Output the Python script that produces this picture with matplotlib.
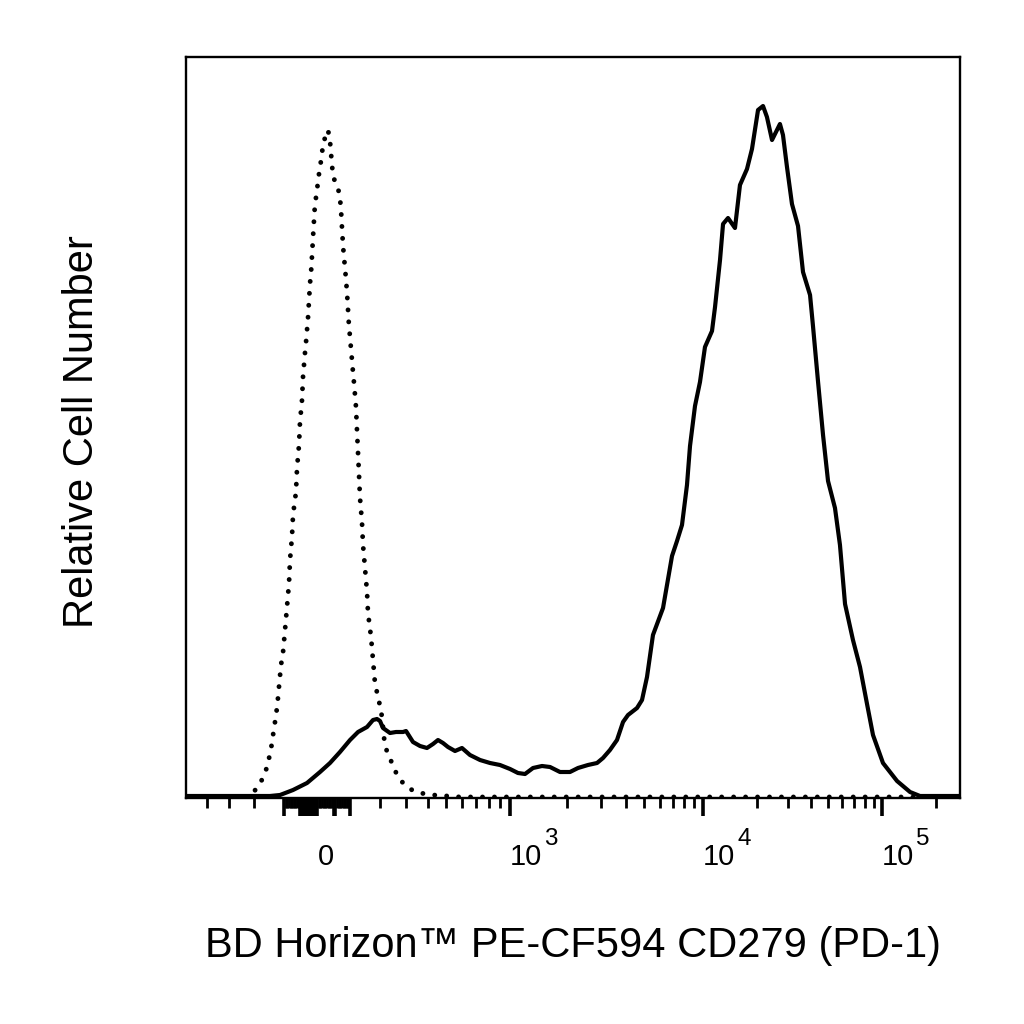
import numpy as np
import matplotlib
matplotlib.use("Agg")
import matplotlib.pyplot as plt
import matplotlib.transforms as mtransforms

plt.rcParams['font.family'] = ['Liberation Sans', 'DejaVu Sans']

# ---- data (x in display channels 0-1024, y in relative cell counts) ----
solid_ch = [0, 111.1, 124.4, 141.6, 160.1, 177.3, 190.5, 203.7, 217.0, 227.6, 239.5,
            247.4, 252.7, 256.7, 260.6, 269.9, 277.8, 287.1, 291.1, 300.3, 309.6,
            318.8, 326.8, 333.4, 340.0, 346.6, 355.9, 365.1, 375.7, 389.0, 402.2,
            415.4, 428.7, 439.2, 448.5, 459.1, 471.0, 481.6, 494.8, 508.0, 518.6,
            531.8, 543.8, 551.7, 560.9, 570.2, 578.2, 584.8, 596.7, 603.3, 609.9,
            617.8, 631.1, 643.0, 649.6, 656.2, 662.8, 666.8, 673.4, 680.0, 686.6,
            695.9, 699.9, 706.5, 710.5, 717.1, 726.3, 732.9, 742.2, 748.8, 756.8,
            763.4, 768.6, 775.3, 785.8, 789.8, 795.1, 801.7, 809.7, 816.3, 825.6,
            829.5, 836.1, 842.8, 849.4, 858.6, 865.2, 871.9, 882.4, 891.7, 901.0,
            908.9, 922.1, 940.7, 957.9, 971.1, 1024]
solid_count = [2, 2, 3, 8, 15, 26, 35, 46, 58, 66, 71,
               78, 79, 77, 70, 65, 66, 66, 67, 56, 52,
               50, 54, 58, 55, 51, 47, 50, 43, 38, 35,
               33, 29, 25, 24, 30, 32, 31, 26, 26, 30,
               33, 35, 40, 48, 58, 76, 83, 90, 98, 121,
               163, 190, 242, 257, 273, 313, 352, 392, 416, 451,
               467, 491, 538, 574, 580, 570, 613, 629, 649, 688,
               692, 681, 658, 674, 663, 631, 594, 572, 526, 503,
               472, 417, 363, 317, 290, 253, 194, 158, 131, 94,
               63, 35, 17, 6, 2, 2]

dotted_ch = [0, 71.4, 84.7, 93.9, 101.9, 107.2, 111.1, 113.8, 116.4, 119.1, 121.7,
             123.0, 125.7, 128.3, 131.0, 133.6, 136.3, 137.6, 140.2, 141.6, 145.5,
             146.9, 149.5, 150.8, 153.5, 154.8, 156.1, 157.4, 158.8, 160.1, 161.4,
             162.7, 164.1, 165.4, 166.7, 168.0, 169.3, 170.7, 173.3, 174.6, 177.3,
             181.3, 185.2, 187.9, 190.5, 191.8, 193.2, 194.5, 198.5, 201.1, 203.7,
             205.1, 206.4, 207.7, 209.0, 210.4, 211.7, 213.0, 214.3, 215.6, 217.0,
             218.3, 219.6, 220.9, 222.3, 223.6, 224.9, 226.2, 227.6, 228.9, 230.2,
             232.8, 234.2, 236.8, 239.5, 240.8, 244.8, 247.4, 250.0, 254.0, 256.7,
             259.3, 262.0, 265.9, 272.5, 279.2, 287.1, 299.0, 309.6, 326.8, 345.3,
             362.5, 1024]
dotted_count = [1, 1, 2, 10, 20, 31, 44, 55, 70, 82, 100,
                111, 133, 145, 168, 191, 215, 238, 261, 283, 306,
                330, 353, 376, 398, 421, 433, 445, 456, 468, 480,
                497, 515, 525, 542, 560, 577, 595, 606, 618, 630,
                653, 664, 668, 657, 645, 633, 621, 615, 610, 600,
                588, 570, 553, 541, 530, 518, 506, 489, 472, 461,
                449, 438, 426, 415, 403, 391, 368, 345, 323, 300,
                276, 253, 230, 206, 185, 161, 138, 115, 101, 92,
                81, 60, 46, 35, 23, 15, 8, 5, 3, 2,
                1, 1]

major_vals = [0, 1e3, 1e4, 1e5]
major_labels = ['0', '3', '4', '5']          # '0' plain, others are exponents of 10
long_minor_vals = [-100, -50, -45, -40, -35, -30, -25, -20, -15, -10, -5, 50, 55, 100]
minor_vals = ([-400, -300, -200]
              + [v for v in range(-95, 100, 5) if v not in long_minor_vals + [0]]
              + list(range(200, 1000, 100)) + list(range(2000, 10000, 1000))
              + list(range(20000, 100000, 10000)) + [200000])

x_label = 'BD Horizon\u2122 PE-CF594 CD279 (PD-1)'
y_label = 'Relative Cell Number'

# ---- biexponential-like channel mapping used for tick positions ----
W = 300.0
g_anchor = np.array([-10.0, 0.0, np.arcsinh(1e3 / W), np.arcsinh(1e4 / W), np.arcsinh(1e5 / W), 10.0])
c_anchor = np.array([173.3 - 132.7 * 10, 173.3, 428.7, 684.0, 920.8,
                     920.8 + 102.9 * (10 - np.arcsinh(1e5 / W))])


def to_channel(v):
    return np.interp(np.arcsinh(np.asarray(v, dtype=float) / W), g_anchor, c_anchor)


fig = plt.figure(figsize=(10.24, 10.24), dpi=100)
ax = fig.add_axes([186 / 1024, 1 - 798 / 1024, 774 / 1024, 741 / 1024])

ax.plot(dotted_ch, dotted_count, color='black', lw=3.5,
        linestyle=(0, (0.01, 2.45)), dash_capstyle='round', solid_capstyle='round')
ax.plot(solid_ch, solid_count, color='black', lw=3.0, solid_joinstyle='round')

ax.set_xlim(0, 1024)
ax.set_ylim(0, 741)
ax.set_yticks([])

ax.set_xticks(list(to_channel(major_vals)) + list(to_channel(long_minor_vals)))
ax.set_xticklabels([])
ax.set_xticks(to_channel(minor_vals), minor=True)
ax.tick_params(axis='x', which='major', direction='out', length=13, width=2.6, color='black')
ax.tick_params(axis='x', which='minor', direction='out', length=7.5, width=2.0, color='black')

for s in ax.spines.values():
    s.set_linewidth(1.7)
    s.set_color('black')

trans = mtransforms.blended_transform_factory(ax.transData, ax.transAxes)
base_y = (798 - 865) / 741.0
for v, lab in zip(major_vals, major_labels):
    xc = float(to_channel(v))
    if lab == '0':
        ax.text(xc + 1, base_y, '0', transform=trans, ha='left', va='baseline',
                fontsize=21, clip_on=False, color='black')
    else:
        ax.text(xc, base_y, '10', transform=trans, ha='left', va='baseline',
                fontsize=21, clip_on=False, color='black')
        ax.annotate(lab, xy=(xc, base_y), xycoords=trans, xytext=(24.5, 14.5),
                    textcoords='offset points', ha='left', va='baseline',
                    fontsize=17.5, annotation_clip=False, color='black')

fig.text(573 / 1024, 1 - 957 / 1024, x_label, ha='center', va='baseline', fontsize=30)
fig.text(82 / 1024, 1 - 432 / 1024, y_label, ha='center', va='center', rotation=90, fontsize=30)

fig.savefig('out.png', dpi=100, facecolor='white')
